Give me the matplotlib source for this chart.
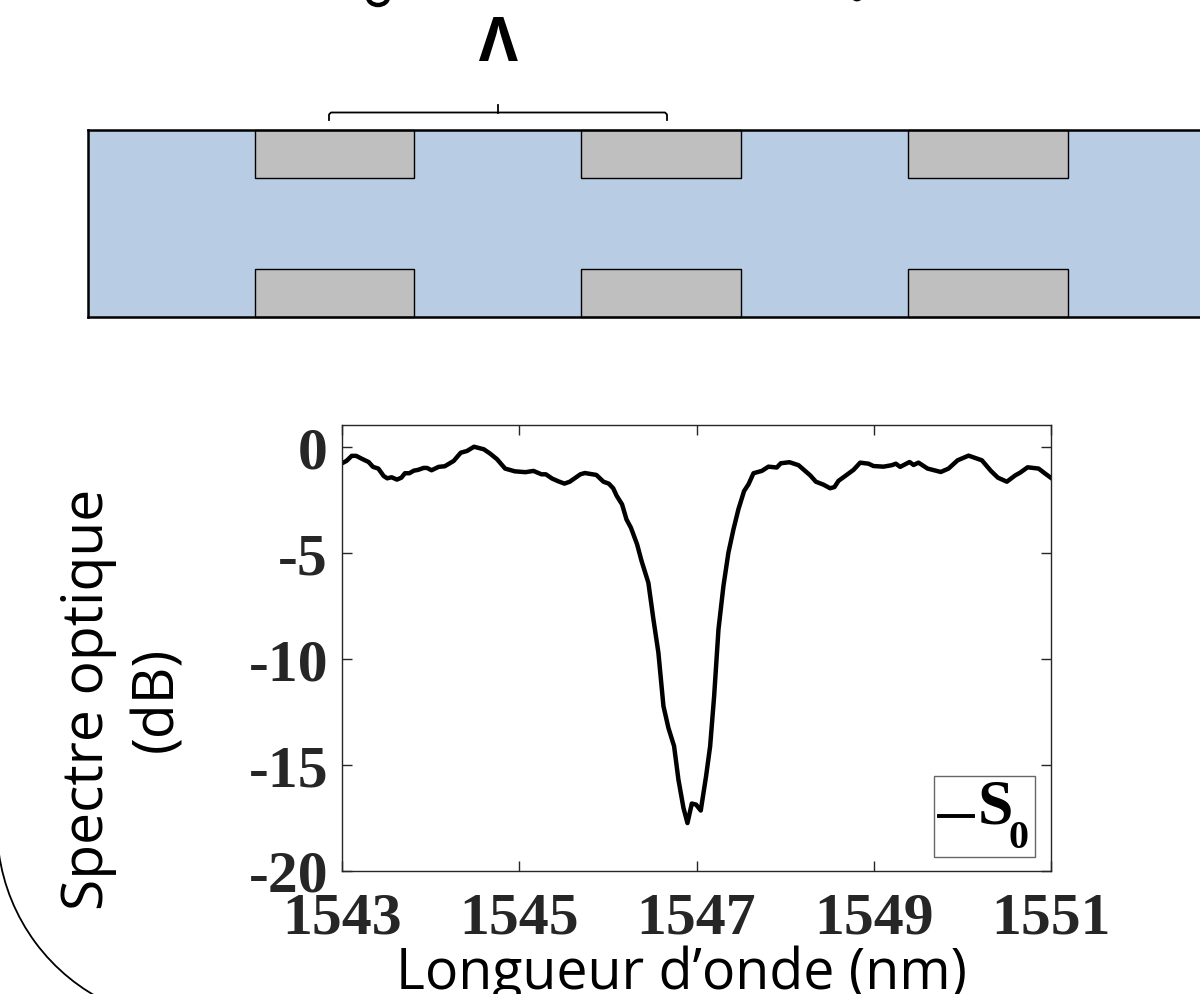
import matplotlib
matplotlib.use("Agg")
import matplotlib.pyplot as plt
from matplotlib.patches import Rectangle, Arc

plt.rcParams["axes.unicode_minus"] = False

wavelength = [1543.0,1543.05,1543.11,1543.16,1543.22,1543.30,1543.35,1543.41,1543.47,1543.51,1543.56,1543.62,1543.67,1543.71,1543.76,1543.81,1543.86,1543.92,1543.96,
 1544.01,1544.09,1544.16,1544.26,1544.34,1544.41,1544.49,1544.60,1544.67,1544.75,1544.84,1544.95,1545.07,1545.16,1545.25,1545.30,1545.37,1545.44,1545.51,1545.57,1545.69,1545.74,1545.87,1545.95,
 1546.01,1546.06,1546.10,1546.16,1546.21,1546.26,1546.33,1546.38,1546.457,1546.514,1546.570,1546.627,1546.683,1546.747,1546.796,1546.853,1546.898,1546.947,1546.995,
 1547.048,1547.108,1547.154,1547.199,1547.248,1547.304,1547.360,1547.417,1547.473,1547.537,1547.587,1547.643,1547.737,1547.812,1547.906,1547.951,
 1548.049,1548.151,1548.283,1548.347,1548.433,1548.508,1548.557,1548.602,1548.678,1548.772,1548.847,1548.941,1548.997,
 1549.110,1549.204,1549.249,1549.298,1549.404,1549.449,1549.505,1549.607,1549.757,1549.844,1549.946,
 1550.070,1550.220,1550.322,1550.401,1550.502,1550.597,1550.653,1550.736,1550.860,1550.935,1551.0]
spectrum_db = [-0.78,-0.67,-0.43,-0.43,-0.56,-0.72,-0.95,-1.03,-1.38,-1.49,-1.44,-1.55,-1.46,-1.25,-1.25,-1.13,-1.09,-1.00,-1.00,
 -1.11,-0.95,-0.92,-0.67,-0.28,-0.20,0.0,-0.12,-0.32,-0.59,-1.03,-1.16,-1.20,-1.14,-1.30,-1.30,-1.50,-1.63,-1.74,-1.65,-1.30,-1.24,-1.33,-1.65,
 -1.74,-1.96,-2.32,-2.72,-3.43,-3.82,-4.61,-5.39,-6.42,-8.15,-9.72,-12.24,-13.27,-14.13,-15.71,-17.05,-17.76,-16.84,-16.89,
 -17.17,-15.55,-14.13,-11.77,-8.62,-6.57,-5.0,-3.90,-2.95,-2.09,-1.77,-1.25,-1.14,-0.94,-0.98,-0.78,
 -0.73,-0.87,-1.35,-1.65,-1.79,-1.96,-1.90,-1.61,-1.38,-1.09,-0.75,-0.80,-0.91,
 -0.94,-0.87,-0.80,-0.95,-0.72,-0.86,-0.75,-1.03,-1.19,-1.03,-0.64,
 -0.42,-0.64,-1.14,-1.46,-1.65,-1.35,-1.22,-0.97,-1.03,-1.27,-1.47]
x_ticks = [1543,1545,1547,1549,1551]
y_ticks = [0,-5,-10,-15,-20]
x_label = "Longueur d\u2019onde (nm)"
y_label = "Spectre optique\n(dB)"
period_label = "\u039b"
legend_label = "S"
legend_sub = "0"

W, H = 1200, 995
fig = plt.figure(figsize=(W/100, H/100), dpi=100, facecolor="white")

# overlay in pixel coordinates for the schematic
bg = fig.add_axes([0, 0, 1, 1])
bg.set_xlim(0, W); bg.set_ylim(H, 0); bg.axis("off")
bg.add_patch(Rectangle((88, 130.5), 1200, 187.5, fc="#B8CCE4", ec="none"))
for x0, w in [(254.5, 159.5), (581, 160), (908, 160)]:
    for y0 in (130.5, 270):
        bg.add_patch(Rectangle((x0, y0), w, 48, fc="#BFBFBF", ec="black", lw=1))
bg.plot([88, 88], [130.5, 318], color="black", lw=1.8)
bg.plot([88, 1200], [130.5, 130.5], color="black", lw=1.8)
bg.plot([88, 1200], [318, 318], color="black", lw=1.8)
# brace
bg.plot([329, 329, 331, 665, 667, 667], [121, 115.5, 113.5, 113.5, 115.5, 121], color="black", lw=1.3)
bg.plot([498, 498], [113.5, 106], color="black", lw=1.3)
bg.text(498, 61, period_label, ha="center", va="baseline", fontsize=43, family="Open Sans",
        fontweight="bold", color="black")
# remains of the cropped line at the top edge
bg.add_patch(Arc((378, -2), 20, 16, theta1=0, theta2=180, color="black", lw=3.2))
bg.add_patch(Arc((857, -3), 9, 8, theta1=0, theta2=180, color="black", lw=2))
# big arc at the lower left
bg.add_patch(Arc((193, 827), 392, 392, theta1=115, theta2=172, color="black", lw=1.3))

ax = fig.add_axes([342/W, 1-871.5/H, (1051-342)/W, (871.5-425.5)/H])
ax.plot(wavelength, spectrum_db, color="black", lw=3.2, solid_joinstyle="round")
ax.set_xlim(1543, 1551)
ax.set_ylim(-20, 1.05)
ax.set_xticks(x_ticks); ax.set_yticks(y_ticks)
ax.tick_params(direction="in", length=7, width=1, color="#262626", top=True, right=True, labelcolor="#262626")
ax.tick_params(axis="x", pad=15)
ax.tick_params(axis="y", pad=10)
for s in ax.spines.values():
    s.set_linewidth(1); s.set_color("#262626")
for t in ax.get_xticklabels() + ax.get_yticklabels():
    t.set_family("Liberation Serif"); t.set_fontweight("bold"); t.set_fontsize(43)

# legend box and axis titles
bg2 = fig.add_axes([0, 0, 1, 1], facecolor="none")
bg2.set_xlim(0, W); bg2.set_ylim(H, 0); bg2.axis("off")
bg2.add_patch(Rectangle((934, 777), 101, 81, fc="white", ec="#666666", lw=1))
bg2.plot([939, 973], [817, 817], color="black", lw=2.8)
bg2.text(978, 823, legend_label, fontsize=46, family="Liberation Serif", fontweight="bold", color="black", ha="left", va="baseline")
bg2.text(1009, 848, legend_sub, fontsize=29, family="Liberation Serif", fontweight="bold", color="black", ha="left", va="baseline")
bg2.text(681, 989, x_label, fontsize=40, family="Open Sans", color="black", ha="center", va="baseline", clip_on=False)
bg2.text(123, 699, y_label, fontsize=41, family="Open Sans", color="black", ha="center", va="center",
         rotation=90, multialignment="center", linespacing=1.3)

fig.savefig("out.png", dpi=100)
